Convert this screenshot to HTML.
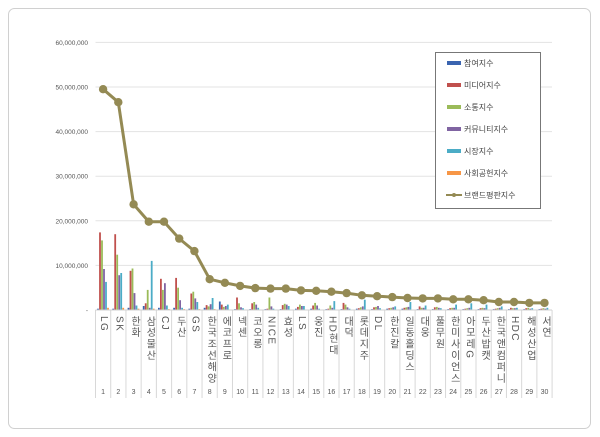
<!DOCTYPE html>
<html><head><meta charset="utf-8"><style>
html,body{margin:0;padding:0;background:#fff;}
body{width:600px;height:437px;overflow:hidden;position:relative;font-family:"Liberation Sans","Noto Sans CJK KR",sans-serif;}
.lb{position:absolute;top:316px;width:14px;writing-mode:vertical-rl;text-orientation:mixed;font-size:10px;letter-spacing:1.4px;line-height:14px;color:#555;white-space:nowrap;}
</style></head><body>
<svg id="c" width="600" height="437" xmlns="http://www.w3.org/2000/svg" font-family="Liberation Sans, Noto Sans CJK KR, sans-serif" style="position:absolute;left:0;top:0"></svg>
<div id="L"></div>
<script>
const s=document.getElementById('c');let h='';
h+='<rect x="8.5" y="8.5" width="582" height="420" rx="6" fill="#fff" stroke="#d0d0d0"/>';
const y0=310,pp=4.46;
const x0=95.5,cw=15.22;
for(let i=0;i<=6;i++){const y=y0-i*10*pp;h+=`<line x1="${x0}" x2="552" y1="${y}" y2="${y}" stroke="#e3e3e3"/>`;
h+=`<text x="88" y="${y+2.5}" font-size="6.5" text-anchor="end" fill="#555">${i==0?'-':(i*10)+',000,000'}</text>`;}
const names=['LG','SK','한화','삼성물산','CJ','두산','GS','한국조선해양','에코프로','넥센','코오롱','NICE','효성','LS','웅진','HD현대','대덕','롯데지주','DL','한진칼','일동홀딩스','대웅','풀무원','한미사이언스','아모레G','두산밥캣','한국앤컴퍼니','HDC','해성산업','서연'];
const line=[49.5,46.6,23.7,19.8,19.8,16,13.2,6.9,6.1,5.4,4.9,4.8,4.8,4.4,4.3,4.1,3.8,3.3,3.1,2.9,2.7,2.6,2.6,2.4,2.4,2.2,1.8,1.8,1.6,1.6];
const bars=[[0.3,17.4,15.6,9.2,6.3,0.5],[0.3,17,12.4,7.8,8.3,0.5],[0.5,8.8,9.3,3.8,1.0,0.3],[0.9,1.5,4.5,0.5,11,0.3],[0.5,7,4.5,6,1,0.2],[0.5,7.2,5,2.2,0.5,0.2],[0.3,3.7,4.1,2.6,1.8,0.2],[0.5,1.1,0.8,1.3,2.7,0.2],[1.9,1.2,0.7,0.9,1.2,0.1],[0.2,2.8,1.5,0.6,0.4,0.1],[0.2,1.5,1.8,1.2,0.5,0.1],[0.2,0.3,2.8,0.8,0.3,0.1],[0.2,1.1,1.4,1.2,0.9,0.1],[0.3,0.7,1.2,0.9,0.9,0.1],[0.3,1,1.6,1,0.3,0.1],[0.2,0.3,1,0.5,2,0.1],[0.2,1.6,1.2,0.6,0.3,0.1],[0.3,0.4,0.6,0.8,2.3,0.1],[0.2,0.6,0.7,0.9,0.4,0.1],[0.3,0.4,0.5,0.6,0.8,0.1],[0.3,0.5,0.6,0.7,1.8,0.1],[0.2,0.8,0.5,0.5,1,0.1],[0.2,0.6,0.7,0.5,0.4,0.1],[0.2,0.4,0.5,0.5,1.2,0.1],[0.2,0.3,0.4,0.5,1.5,0.1],[0.2,0.4,0.5,0.4,1.2,0.1],[0.2,0.3,0.4,0.5,0.8,0.1],[0.2,0.5,0.4,0.4,0.5,0.1],[0.2,0.4,0.5,0.3,0.4,0.1],[0.2,0.3,0.4,0.3,0.5,0.1]];
const cols=['#3a64b0','#c0504d','#9bbb59','#8064a2','#4bacc6','#f79646'];
for(let i=0;i<30;i++){const cx=x0+cw*(i+0.5);
 bars[i].forEach((v,j)=>{const hh=v*pp;h+=`<rect x="${(cx-6+j*2).toFixed(1)}" y="${(y0-hh).toFixed(1)}" width="1.8" height="${hh.toFixed(1)}" fill="${cols[j]}"/>`;});
}
for(let i=0;i<=30;i++){const x=x0+cw*i;h+=`<line x1="${x}" x2="${x}" y1="${y0}" y2="398" stroke="#d8d8d8"/>`;}
h+=`<line x1="${x0}" x2="552" y1="${y0}" y2="${y0}" stroke="#d0d0d0"/>`;
let pts=line.map((v,i)=>`${(x0+cw*(i+0.5)).toFixed(1)},${(y0-v*pp).toFixed(1)}`).join(' ');
h+=`<polyline points="${pts}" fill="none" stroke="#948a54" stroke-width="3"/>`;
line.forEach((v,i)=>{h+=`<circle cx="${(x0+cw*(i+0.5)).toFixed(1)}" cy="${(y0-v*pp).toFixed(1)}" r="4.2" fill="#948a54"/>`;});
let d='';
for(let i=0;i<30;i++){const cx=x0+cw*(i+0.5);
 h+=`<text x="${cx}" y="394" font-size="7" text-anchor="middle" fill="#555">${i+1}</text>`;
 d+=`<div class="lb" style="left:${(cx-7).toFixed(1)}px">${names[i]}</div>`;
}
h+='<rect x="435.5" y="52.5" width="105" height="156" fill="#fff" stroke="#777"/>';
const lg=['참여지수','미디어지수','소통지수','커뮤니티지수','시장지수','사회공헌지수'];
lg.forEach((t,i)=>{const y=63+i*22;h+=`<rect x="447" y="${y-2}" width="14" height="4" fill="${cols[i]}"/><text x="464" y="${y+3}" font-size="8" fill="#444">${t}</text>`;});
h+='<line x1="446" x2="462" y1="195" y2="195" stroke="#948a54" stroke-width="2"/><circle cx="454" cy="195" r="2" fill="#948a54"/><text x="464" y="198" font-size="8" fill="#444">브랜드평판지수</text>';
s.innerHTML=h;
document.getElementById('L').innerHTML=d;
</script>
</body></html>
